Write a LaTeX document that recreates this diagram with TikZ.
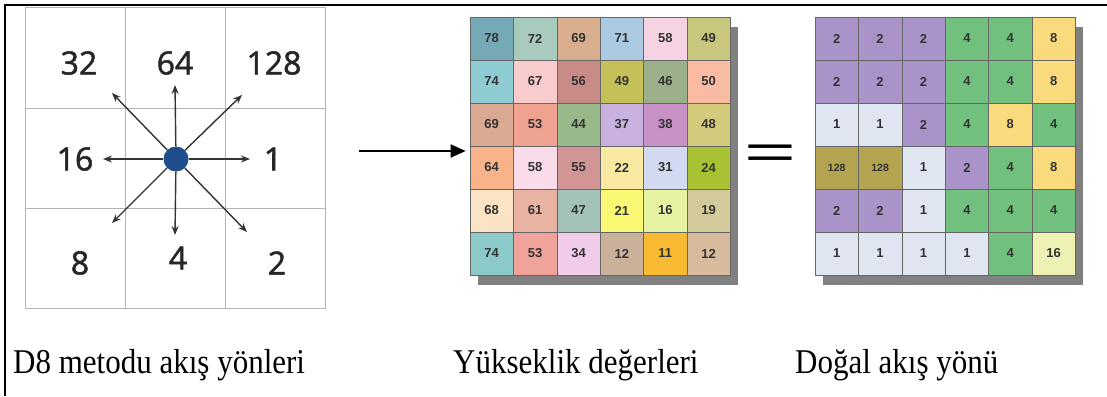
\documentclass[tikz,border=0pt]{standalone}
\usepackage{fontspec}
\setmainfont{Liberation Serif}
\newfontfamily\dsans[FakeBold=1.6]{Open Sans}
\newfontfamily\gsans{Liberation Sans}
\usetikzlibrary{arrows.meta}
% elevation colours
\definecolor{eAa}{HTML}{76A9B6}\definecolor{eAb}{HTML}{A8CBBD}\definecolor{eAc}{HTML}{D8AE8E}
\definecolor{eAd}{HTML}{ABC9E0}\definecolor{eAe}{HTML}{F6D3E3}\definecolor{eAf}{HTML}{C9C67E}
\definecolor{eBa}{HTML}{8ECBD2}\definecolor{eBb}{HTML}{F8CCCC}\definecolor{eBc}{HTML}{C98B86}
\definecolor{eBd}{HTML}{C6C059}\definecolor{eBe}{HTML}{9BB08A}\definecolor{eBf}{HTML}{F9BBA2}
\definecolor{eCa}{HTML}{D9A991}\definecolor{eCb}{HTML}{F0A291}\definecolor{eCc}{HTML}{99B98A}
\definecolor{eCd}{HTML}{C9B2E0}\definecolor{eCe}{HTML}{C892C6}\definecolor{eCf}{HTML}{D3CA7C}
\definecolor{eDa}{HTML}{F8B38B}\definecolor{eDb}{HTML}{F9DBEA}\definecolor{eDc}{HTML}{D29595}
\definecolor{eDd}{HTML}{F9E9A2}\definecolor{eDe}{HTML}{D2DAF1}\definecolor{eDf}{HTML}{A9C234}
\definecolor{eEa}{HTML}{FBE3C5}\definecolor{eEb}{HTML}{E8B3A3}\definecolor{eEc}{HTML}{A3C2BA}
\definecolor{eEd}{HTML}{FAF872}\definecolor{eEe}{HTML}{E8F2A3}\definecolor{eEf}{HTML}{D2CA9B}
\definecolor{eFa}{HTML}{8CCACA}\definecolor{eFb}{HTML}{F0A39B}\definecolor{eFc}{HTML}{F0CCE9}
\definecolor{eFd}{HTML}{C9B19A}\definecolor{eFe}{HTML}{F9BA33}\definecolor{eFf}{HTML}{D8BB9C}
% flow colours
\definecolor{fP}{HTML}{A993C9}\definecolor{fG}{HTML}{72C07E}\definecolor{fY}{HTML}{F9DA7C}
\definecolor{fW}{HTML}{DFE5F1}\definecolor{fO}{HTML}{B3A452}\definecolor{fL}{HTML}{EEF0B4}
\definecolor{dotblue}{HTML}{1F4E8C}
\definecolor{gridgray}{HTML}{B4B4B4}
\definecolor{shadowgray}{HTML}{808080}
\begin{document}
\begin{tikzpicture}[x=1pt,y=-1pt,
  d8cell/.style={draw=gridgray,line width=1pt,minimum width=100pt,minimum height=100pt,inner sep=0pt},
  d8num/.style={font=\dsans\fontsize{32}{32}\selectfont,text=black!85,inner sep=0pt},
  d8arrow/.style={-{Stealth[length=9pt,width=7pt]},line width=1.4pt,draw=black!80},
  gcell/.style={draw=black!60,line width=0.6pt,minimum width=43.4pt,minimum height=43pt,inner sep=0pt,
     font=\gsans\bfseries\fontsize{13}{13}\selectfont,text=black!80},
  shadowbox/.style={fill=shadowgray},
  caption/.style={anchor=base west,inner sep=0pt,font=\fontsize{31}{31}\selectfont}]
\useasboundingbox (0,0) rectangle (1107,396);
\fill[white] (0,0) rectangle (1107,396);
% frame
\draw[line width=2pt] (5,396) -- (5,5) -- (1107,5);
% D8 grid
\foreach \i in {0,1,2}{\foreach \j in {0,1,2}{
  \node[d8cell] (d-\i-\j) at (75+100*\i,58+100*\j) {};}}
\node[d8num] (n32) at (79,63) {32};
\node[d8num] (n64) at (175,63) {64};
\node[d8num] (n128) at (274,63) {128};
\node[d8num] (n16) at (75,159) {16};
\node[d8num] (n1) at (273,159) {1};
\node[d8num] (n8) at (80,263) {8};
\node[d8num] (n4) at (178,258) {4};
\node[d8num] (n2) at (277,263) {2};
\node[circle,fill=dotblue,minimum size=25pt,inner sep=0pt] (c) at (176,159) {};
\coordinate (pR) at (250,159);
\coordinate (pL) at (103,159);
\coordinate (pU) at (175,85);
\coordinate (pD) at (175,235);
\coordinate (pUL) at (112,93);
\coordinate (pUR) at (242,95);
\coordinate (pLL) at (112,223);
\coordinate (pLR) at (247,232);
\foreach \p in {pR,pL,pU,pD,pUL,pUR,pLL,pLR}{\draw[d8arrow] (c) -- (\p);}
% elevation grid
\fill[shadowbox] (478,27) rectangle (738,285);
\foreach \v/\c [count=\k] in {78/eAa,72/eAb,69/eAc,71/eAd,58/eAe,49/eAf}{
  \node[gcell,fill=\c] (e-1-\k) at (470+43.4*\k-21.7,38.5) {\v};}
\foreach \v/\c [count=\k] in {74/eBa,67/eBb,56/eBc,49/eBd,46/eBe,50/eBf}{
  \node[gcell,fill=\c] (e-2-\k) at (470+43.4*\k-21.7,81.5) {\v};}
\foreach \v/\c [count=\k] in {69/eCa,53/eCb,44/eCc,37/eCd,38/eCe,48/eCf}{
  \node[gcell,fill=\c] (e-3-\k) at (470+43.4*\k-21.7,124.5) {\v};}
\foreach \v/\c [count=\k] in {64/eDa,58/eDb,55/eDc,22/eDd,31/eDe,24/eDf}{
  \node[gcell,fill=\c] (e-4-\k) at (470+43.4*\k-21.7,167.5) {\v};}
\foreach \v/\c [count=\k] in {68/eEa,61/eEb,47/eEc,21/eEd,16/eEe,19/eEf}{
  \node[gcell,fill=\c] (e-5-\k) at (470+43.4*\k-21.7,210.5) {\v};}
\foreach \v/\c [count=\k] in {74/eFa,53/eFb,34/eFc,12/eFd,11/eFe,12/eFf}{
  \node[gcell,fill=\c] (e-6-\k) at (470+43.4*\k-21.7,253.5) {\v};}
% arrow
\coordinate (aS) at (359,151);
\draw[-{Triangle[length=15pt,width=13pt]},line width=1.8pt,shorten >=4pt] (aS) -- (aS -| e-4-1.west);
% equals
\node[inner sep=0pt,font=\gsans\fontsize{48}{48}\selectfont] (eq) at (770,157) {\scalebox{1.85}[1]{=}};
% flow grid
\fill[shadowbox] (823,27) rectangle (1083,285);
\foreach \v/\c [count=\k] in {2/fP,2/fP,2/fP,4/fG,4/fG,8/fY}{
  \node[gcell,fill=\c] (f-1-\k) at (815+43.4*\k-21.7,38.5) {\v};}
\foreach \v/\c [count=\k] in {2/fP,2/fP,2/fP,4/fG,4/fG,8/fY}{
  \node[gcell,fill=\c] (f-2-\k) at (815+43.4*\k-21.7,81.5) {\v};}
\foreach \v/\c [count=\k] in {1/fW,1/fW,2/fP,4/fG,8/fY,4/fG}{
  \node[gcell,fill=\c] (f-3-\k) at (815+43.4*\k-21.7,124.5) {\v};}
\foreach \v/\c [count=\k] in {{\fontsize{10.5}{10.5}\selectfont 128}/fO,{\fontsize{10.5}{10.5}\selectfont 128}/fO,1/fW,2/fP,4/fG,8/fY}{
  \node[gcell,fill=\c] (f-4-\k) at (815+43.4*\k-21.7,167.5) {\v};}
\foreach \v/\c [count=\k] in {2/fP,2/fP,1/fW,4/fG,4/fG,4/fG}{
  \node[gcell,fill=\c] (f-5-\k) at (815+43.4*\k-21.7,210.5) {\v};}
\foreach \v/\c [count=\k] in {1/fW,1/fW,1/fW,1/fW,4/fG,16/fL}{
  \node[gcell,fill=\c] (f-6-\k) at (815+43.4*\k-21.7,253.5) {\v};}
% captions
\node[caption] (l1) at (13,373) {\scalebox{1}[1.12]{D8 metodu akış yönleri}};
\node[caption] (l2) at (453,373) {\scalebox{1}[1.12]{Yükseklik değerleri}};
\node[caption] (l3) at (795,373) {\scalebox{1}[1.12]{Doğal akış yönü}};
\end{tikzpicture}
\end{document}
